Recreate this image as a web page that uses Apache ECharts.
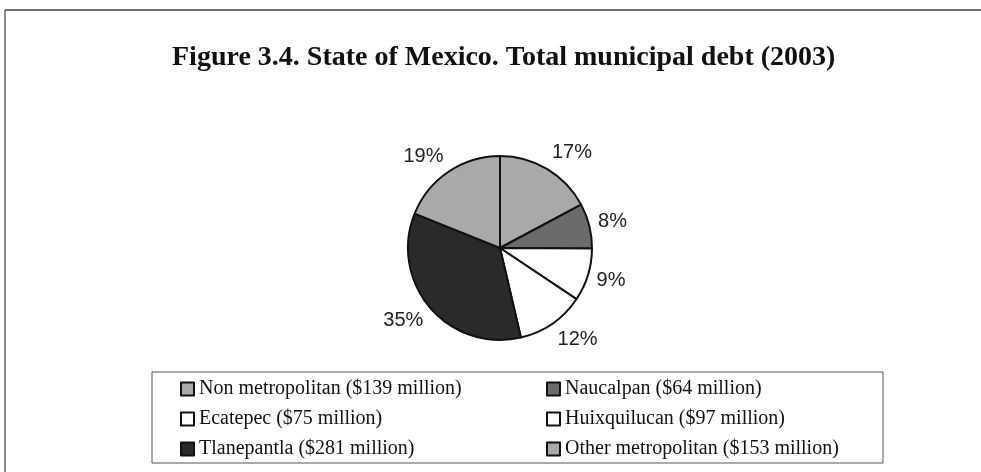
<!DOCTYPE html>
<html>
<head>
<meta charset="utf-8">
<script src="https://cdn.jsdelivr.net/npm/echarts@6/dist/echarts.min.js"></script>
<style>
  html, body { margin: 0; padding: 0; background: #fff; }
  #chart { width: 981px; height: 472px; }
</style>
</head>
<body>
<div id="chart"></div>
<script>
// Municipal debt of the State of Mexico, 2003 (millions of pesos)
const municipalities = [
  'Non metropolitan ($139 million)',
  'Naucalpan ($64 million)',
  'Ecatepec ($75 million)',
  'Huixquilucan ($97 million)',
  'Tlanepantla ($281 million)',
  'Other metropolitan ($153 million)'
];
const debtMillions = [139, 64, 75, 97, 281, 153];
const sliceColors = ['#a9a9a9', '#6b6b6b', '#ffffff', '#ffffff', '#2a2a2a', '#a9a9a9'];

// Legend is laid out in two columns
const legendLeftColumn = [municipalities[0], municipalities[2], municipalities[4]];
const legendRightColumn = [municipalities[1], municipalities[3], municipalities[5]];

const PIE_CENTER = [500, 248];
const PIE_RADIUS = 92;
const LABEL_GAP = 9;

// Mid angle of every slice (radians, measured clockwise from 12 o'clock)
const total = debtMillions.reduce(function (a, b) { return a + b; }, 0);
const midAngles = [];
(function () {
  let acc = 0;
  debtMillions.forEach(function (v) {
    midAngles.push(((acc + v / 2) / total) * Math.PI * 2);
    acc += v;
  });
})();

// Place each percentage label just outside the rim along the slice's
// mid direction: pushed sideways by its full width, vertically by a
// share of its height that follows the direction.
function placeLabel(p) {
  const a = midAngles[p.dataIndex];
  const dx = Math.sin(a), dy = -Math.cos(a);
  const cx = PIE_CENTER[0] + (PIE_RADIUS + LABEL_GAP) * dx;
  const cy = PIE_CENTER[1] + (PIE_RADIUS + LABEL_GAP) * dy;
  const w = p.labelRect.width, h = p.labelRect.height;
  return {
    x: dx >= 0 ? cx : cx - w,
    y: cy + dy * h / 2 - h / 2,
    align: 'left',
    verticalAlign: 'top'
  };
}

const chart = echarts.init(document.getElementById('chart'), null, { renderer: 'canvas' });

const legendText = {
  fontFamily: '"Liberation Serif", "Times New Roman", serif',
  fontSize: 20,
  color: '#111',
  lineHeight: 20
};
const legendCommon = {
  orient: 'vertical',
  icon: 'rect',
  padding: 0,
  itemWidth: 13,
  itemHeight: 13,
  itemGap: 10,
  selectedMode: false,
  textStyle: legendText,
  itemStyle: { borderColor: '#111', borderWidth: 2 }
};

chart.setOption({
  animation: false,
  backgroundColor: '#fff',
  title: {
    text: 'Figure 3.4. State of Mexico. Total municipal debt (2003)',
    left: 167,
    top: 39,
    textStyle: {
      fontFamily: '"Liberation Serif", "Times New Roman", serif',
      fontWeight: 'bold',
      fontSize: 28,
      color: '#111'
    }
  },
  graphic: [
    // outer frame (top and left edges)
    { type: 'line', shape: { x1: 5, y1: 10, x2: 981, y2: 10 }, style: { stroke: '#444', lineWidth: 1.5 } },
    { type: 'line', shape: { x1: 5, y1: 10, x2: 5, y2: 472 }, style: { stroke: '#666', lineWidth: 1.5 } },
    // legend box
    { type: 'rect', shape: { x: 152, y: 372, width: 731, height: 91 }, style: { fill: 'none', stroke: '#555', lineWidth: 1 }, z: 0 }
  ],
  legend: [
    Object.assign({ left: 180, top: 379, data: legendLeftColumn }, legendCommon),
    Object.assign({ left: 546, top: 379, data: legendRightColumn }, legendCommon)
  ],
  series: [{
    type: 'pie',
    center: PIE_CENTER,
    radius: PIE_RADIUS,
    startAngle: 90,
    clockwise: true,
    silent: true,
    color: sliceColors,
    itemStyle: { borderColor: '#111', borderWidth: 2 },
    label: {
      show: true,
      position: 'outside',
      formatter: function (p) { return Math.round(p.percent) + '%'; },
      fontFamily: '"Liberation Sans", Arial, sans-serif',
      fontSize: 20,
      color: '#222'
    },
    labelLine: { show: false, length: 10, length2: 0 },
    labelLayout: placeLabel,
    data: municipalities.map(function (name, i) {
      return { name: name, value: debtMillions[i] };
    })
  }]
});
</script>
</body>
</html>
